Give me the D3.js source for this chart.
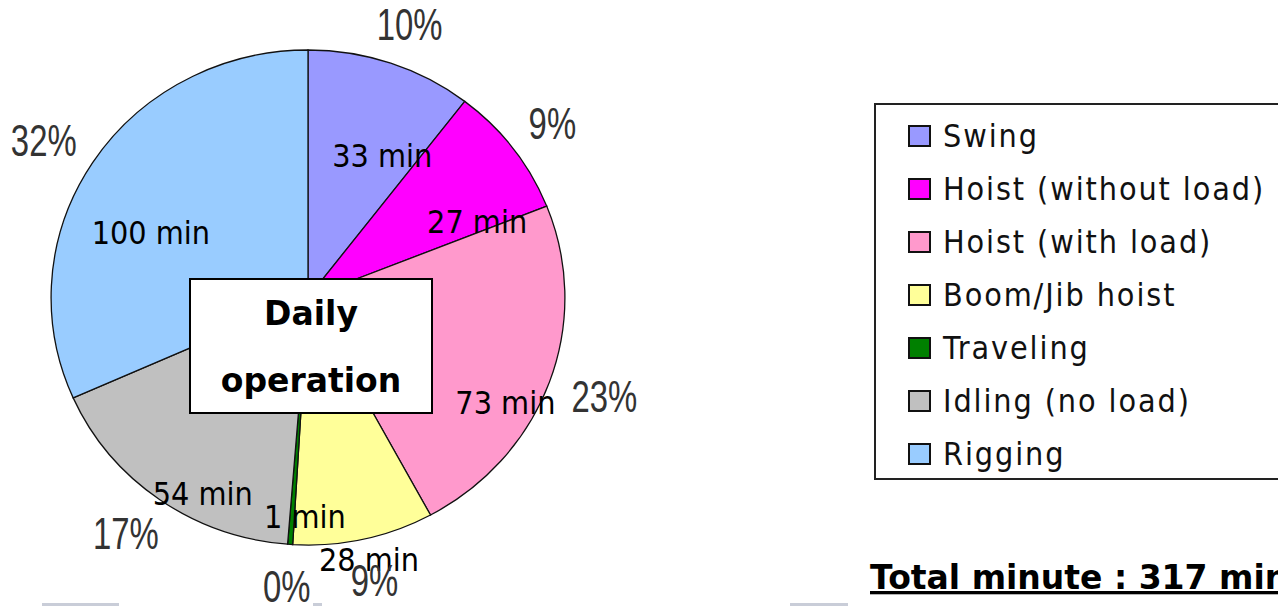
<html>
<head>
<meta charset="utf-8">
<script src="https://cdn.jsdelivr.net/npm/d3@7/dist/d3.min.js"></script>
<style>
	body { margin:0; background:#fff; }
	svg { display:block; }
</style>
</head>
<body>
<svg id="chart" width="1278" height="606"></svg>
<script>
// chart data
const categories = ["Swing", "Hoist (without load)", "Hoist (with load)", "Boom/Jib hoist", "Traveling", "Idling (no load)", "Rigging"];
const minutes = [33, 27, 73, 28, 1, 54, 100];
const sliceColors = ["#9999ff", "#ff00ff", "#ff99cc", "#ffff99", "#008000", "#c0c0c0", "#99ccff"];
const titleLines = ["Daily", "operation"];
const totalLabel = "Total minute : 317 min";

// layout
const cx = 308, cy = 297.5, r = 247.5;
const sx = 1.038;   // the pie is a little wider than tall
const svg = d3.select("#chart");

const total = d3.sum(minutes);
const slices = d3.pie().sort(null).value(d => d)(minutes);
const arc = d3.arc().innerRadius(0).outerRadius(r);
const color = d3.scaleOrdinal().domain(categories).range(sliceColors);

// slices
const pieG = svg.append("g").attr("transform", `translate(${cx},${cy}) scale(${sx},1)`);
pieG.selectAll("path")
	.data(slices)
	.enter().append("path")
	.attr("d", arc)
	.attr("fill", (d, i) => color(categories[i]))
	.attr("stroke", "#111")
	.attr("stroke-width", 1.3)
	.attr("vector-effect", "non-scaling-stroke");

function mid(d) { return (d.startAngle + d.endAngle) / 2; }

// minute labels
const mins = svg.selectAll("text.mins")
	.data(slices)
	.enter().append("text")
	.attr("class", "mins")
	.attr("text-anchor", "middle")
	.style("font-family", "'DejaVu Sans Condensed', 'DejaVu Sans', sans-serif")
	.style("font-size", "32px")
	.attr("fill", "#000")
	.text(d => `${d.data} min`);

const pos = slices.map(d => ({
	x: cx + 10 + 192 * sx * Math.sin(mid(d)),
	y: cy + 40 - 192 * Math.cos(mid(d)),
	a: mid(d)
}));
const sizes = [];
mins.each(function(d, i) { const bb = this.getBBox(); sizes[i] = { w: bb.width, h: 40 }; });

// nudge labels that collide: bigger slice outwards, smaller one inwards
for (let k = 0; k < 60; k++) {
	let moved = false;
	for (let i = 0; i < pos.length; i++) {
		for (let j = i + 1; j < pos.length; j++) {
			const ox = (sizes[i].w + sizes[j].w) / 2 - Math.abs(pos[i].x - pos[j].x);
			const oy = (sizes[i].h + sizes[j].h) / 2 + 2 - Math.abs(pos[i].y - pos[j].y);
			if (ox > 0 && oy > 0) {
				const big = minutes[i] >= minutes[j] ? i : j, small = big === i ? j : i;
				pos[big].x += 3 * Math.sin(pos[big].a); pos[big].y -= 3 * Math.cos(pos[big].a);
				pos[small].x -= Math.sin(pos[small].a); pos[small].y += Math.cos(pos[small].a);
				moved = true;
			}
		}
	}
	if (!moved) break;
}
mins.attr("x", (d, i) => pos[i].x).attr("y", (d, i) => pos[i].y + 11);

// percent labels outside the pie
const pct = svg.selectAll("text.pct")
	.data(slices)
	.enter().append("text")
	.attr("class", "pct")
	.attr("text-anchor", "middle")
	.style("font-family", "'Liberation Sans', Arial, sans-serif")
	.style("font-size", "45px")
	.attr("fill", "#333")
	.text(d => Math.round(d.data / total * 100) + "%");

pct.each(function(d) {
	const w = this.getBBox().width * 0.73;
	const a = mid(d);
	const x = cx + (272 * sx + w / 2) * Math.sin(a);
	const y = cy - (272 + 17) * Math.cos(a);
	d3.select(this)
		.attr("textLength", w)
		.attr("lengthAdjust", "spacingAndGlyphs")
		.attr("x", x).attr("y", y + 16);
});

// title box over the centre
const box = { x: cx - 118, y: cy - 18.5, w: 242, h: 134 };
svg.append("rect")
	.attr("x", box.x).attr("y", box.y)
	.attr("width", box.w).attr("height", box.h)
	.attr("fill", "#fff")
	.attr("stroke", "#000")
	.attr("stroke-width", 2);

svg.selectAll("text.title")
	.data(titleLines)
	.enter().append("text")
	.attr("class", "title")
	.attr("x", box.x + box.w / 2)
	.attr("y", (d, i) => box.y + 46 + i * 67)
	.attr("text-anchor", "middle")
	.style("font-family", "'DejaVu Sans', Verdana, sans-serif")
	.style("font-weight", "bold")
	.style("font-size", "33px")
	.attr("fill", "#000")
	.text(d => d);

// legend
const legend = svg.append("g");
legend.append("rect")
	.attr("x", 875).attr("y", 104)
	.attr("width", 440).attr("height", 375)
	.attr("fill", "#fff")
	.attr("stroke", "#222")
	.attr("stroke-width", 2);

const rowY = d3.scalePoint().domain(categories).range([136, 454]);

legend.selectAll("rect.sw")
	.data(categories)
	.enter().append("rect")
	.attr("class", "sw")
	.attr("x", 909)
	.attr("y", d => rowY(d) - 10)
	.attr("width", 21).attr("height", 20)
	.attr("fill", d => color(d))
	.attr("stroke", "#111")
	.attr("stroke-width", 2);

legend.selectAll("text.lg")
	.data(categories)
	.enter().append("text")
	.attr("class", "lg")
	.attr("x", 943)
	.attr("y", d => rowY(d) + 11)
	.style("font-family", "'DejaVu Sans Condensed', 'DejaVu Sans', sans-serif")
	.style("font-size", "32px")
	.style("letter-spacing", "1.9px")
	.attr("fill", "#111")
	.text(d => d);

// total
svg.append("text")
	.attr("x", 870)
	.attr("y", 589)
	.style("font-family", "'DejaVu Sans', Verdana, sans-serif")
	.style("font-weight", "bold")
	.style("font-size", "33px")
	.style("text-decoration", "underline")
	.attr("fill", "#000")
	.text(totalLabel);

// faint page fragments along the bottom edge
[[42, 77], [313, 9], [790, 58]].forEach(([x, w]) => {
	svg.append("rect").attr("x", x).attr("y", 603).attr("width", w).attr("height", 3).attr("fill", "#c9cdd8");
});
</script>
</body>
</html>
